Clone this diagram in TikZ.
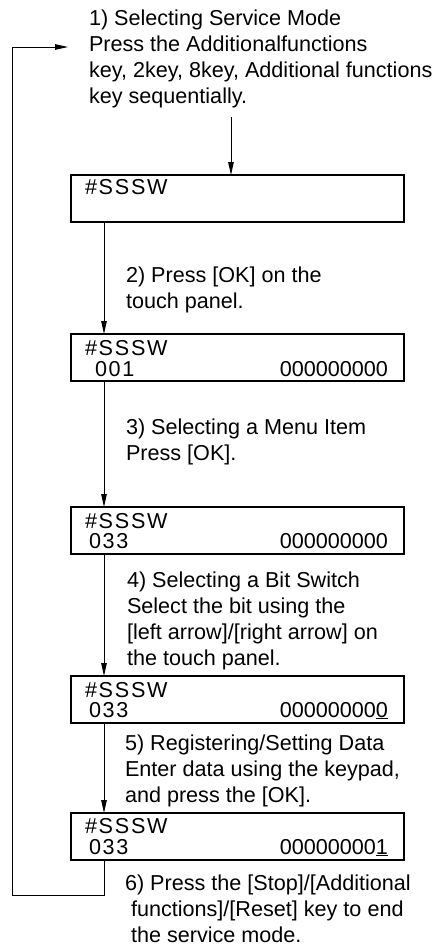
\documentclass[tikz,border=0pt]{standalone}
\usepackage{fontspec}
\setmainfont{Liberation Sans}
\usetikzlibrary{arrows.meta}
\begin{document}
\begin{tikzpicture}[x=1pt,y=-1pt,
  every node/.style={inner sep=0pt, outer sep=0pt},
  lbl/.style={anchor=base west, align=left, font=\fontsize{21.6}{25.7}\selectfont},
  scr/.style={draw, line width=1.3pt, minimum width=333pt, minimum height=47pt, anchor=north west},
  dtxt/.style={anchor=base west, font=\fontsize{21.6}{25.8}\selectfont\addfontfeature{LetterSpace=8}},
  ntxt/.style={anchor=base east, font=\fontsize{21.6}{25.8}\selectfont},
  arr/.style={line width=0.9pt, -{Triangle[length=13pt,width=5.5pt]}}]
\useasboundingbox (0,0) rectangle (443,947);

% step texts (anchored at the baseline of their last line)
\node[lbl] (t1) at (89,103) {1) Selecting Service Mode\\Press the Additionalfunctions\\key, 2key, 8key, Additional functions\\key sequentially.};
\node[lbl] (t2) at (126,308) {2) Press [OK] on the\\touch panel.};
\node[lbl] (t3) at (126,460) {3) Selecting a Menu Item\\Press [OK].};
\node[lbl] (t4) at (127,665) {4) Selecting a Bit Switch\\Select the bit using the\\{[}left arrow]/[right arrow] on\\the touch panel.};
\node[lbl] (t5) at (125,802) {5) Registering/Setting Data\\Enter data using the keypad,\\and press the [OK].};
\node[lbl] (t6) at (125,942) {6) Press the [Stop]/[Additional\\\hspace*{6pt}functions]/[Reset] key to end\\\hspace*{6pt}the service mode.};

% screens
\node[scr] (b1) at (71,175) {};
\node[scr] (b2) at (71,334) {};
\node[scr] (b3) at (71,507) {};
\node[scr] (b4) at (71,676) {};
\node[scr] (b5) at (71,813) {};

\node[dtxt] (b1a) at ([shift={(14,19)}]b1.north west) {\#SSSW};

\node[dtxt] (b2a) at ([shift={(14,21)}]b2.north west) {\#SSSW};
\node[dtxt] (b2b) at ([shift={(24,42)}]b2.north west) {001};
\node[ntxt] (b2c) at ([shift={(-16,42)}]b2.north east) {000000000};

\node[dtxt] (b3a) at ([shift={(14,21)}]b3.north west) {\#SSSW};
\node[dtxt] (b3b) at ([shift={(18,41)}]b3.north west) {033};
\node[ntxt] (b3c) at ([shift={(-16,41)}]b3.north east) {000000000};

\node[dtxt] (b4a) at ([shift={(14,21)}]b4.north west) {\#SSSW};
\node[dtxt] (b4b) at ([shift={(18,41)}]b4.north west) {033};
\node[ntxt] (b4c) at ([shift={(-16,41)}]b4.north east) {00000000\underline{0}};

\node[dtxt] (b5a) at ([shift={(14,20)}]b5.north west) {\#SSSW};
\node[dtxt] (b5b) at ([shift={(18,41)}]b5.north west) {033};
\node[ntxt] (b5c) at ([shift={(-16,41)}]b5.north east) {00000000\underline{1}};

% connectors
\coordinate (a1) at (231,117);
\draw[arr] (a1) -- (a1 |- b1.north);
\draw[arr] ([xshift=33pt]b1.south west) -- ([xshift=33pt]b2.north west);
\draw[arr] ([xshift=33pt]b2.south west) -- ([xshift=33pt]b3.north west);
\draw[arr] ([xshift=33pt]b3.south west) -- ([xshift=33pt]b4.north west);
\draw[arr] ([xshift=33pt]b4.south west) -- ([xshift=33pt]b5.north west);

\coordinate (lc) at (12,895);
\coordinate (lt) at (68,47);
\draw[arr] ([xshift=33pt]b5.south west) |- (lc) |- (lt);
\end{tikzpicture}
\end{document}
